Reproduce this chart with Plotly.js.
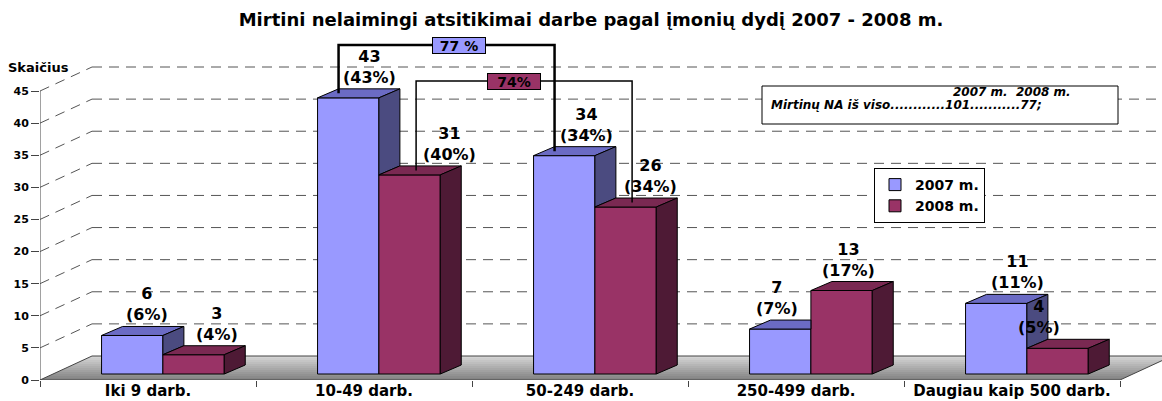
<!DOCTYPE html>
<html><head><meta charset="utf-8">
<script src="https://cdn.plot.ly/plotly-3.0.1.min.js"></script>
<style>html,body{margin:0;padding:0;background:#fff}#chart{width:1162px;height:401px}</style>
</head><body><div id="chart"></div>
<script>
// ---- data ----
const categories = ['Iki 9 darb.', '10-49 darb.', '50-249 darb.', '250-499 darb.', 'Daugiau kaip 500 darb.'];
const seriesNames = ['2007 m.', '2008 m.'];
const values2007 = [6, 43, 34, 7, 11];
const values2008 = [3, 31, 26, 13, 4];
const pct2007 = ['6%', '43%', '34%', '7%', '11%'];
const pct2008 = ['4%', '40%', '34%', '17%', '5%'];
const yTicks = [0, 5, 10, 15, 20, 25, 30, 35, 40, 45];
const bracketCats = [1, 2];
const bracketLabels = ['77 %', '74%'];
const totalsHeader = '2007 m.&nbsp;&nbsp;2008 m.';
const totalsLine = 'Mirtinų NA iš viso............101...........77;';
const titleText = 'Mirtini nelaimingi atsitikimai darbe pagal įmonių dydį 2007 - 2008 m.';
const yLabel = 'Skaičius';

// ---- geometry / style (layout only) ----
const W = 1162, H = 401, ML = 40, MR = 0, MT = 20, MB = 21;
const plotW = W - ML - MR, plotH = H - MT - MB;
const PXX = 216, PXY = 6.422;
const xMin = -0.5, xMax = xMin + plotW / PXX;
const yMax = plotH / PXY;
const barLift = 6 / PXY;            // bars stand slightly behind the front edge
const BW = 0.284, C0 = 0.069;       // bar width, pair centre offset
const DX = 21 / PXX, DY = 9 / PXY;  // bar depth
const WX = 52 / PXX, WY = 24 / PXY; // wall depth
const labelNudgePx = [[15, 21, 22, -3, 21], [23, 40, 25, 7, -19]]; // manual label placement as in the original
const FONT = 'DejaVu Sans, Arial, sans-serif';
const colBlue = '#9999FF', colBlueTop = '#6B6BC4', colBlueSide = '#4B4B80';
const colMar = '#993366', colMarTop = '#7A2952', colMarSide = '#4E1A35';
const n = categories.length;
const xIdx = categories.map((c, i) => i);

function poly(arr, pts) { pts.concat([pts[0]]).forEach(p => { arr.x.push(p[0]); arr.y.push(p[1]); }); arr.x.push(null); arr.y.push(null); }
const bTop = {x: [], y: []}, bSide = {x: [], y: []}, mTop = {x: [], y: []}, mSide = {x: [], y: []};
for (let i = 0; i < n; i++) {
  const vB = values2007[i], vM = values2008[i];
  const a = i + C0 - BW, b = i + C0, b2 = b + BW;
  if (vM <= vB) poly(bTop, [[a, vB], [a + DX, vB + DY], [b + DX, vB + DY], [b, vB]]);
  else if (vM >= vB + DY) poly(bTop, [[a, vB], [a + DX, vB + DY], [b, vB + DY], [b, vB]]);
  else { const xi = b + (vB + DY - vM) / DY * DX; poly(bTop, [[a, vB], [a + DX, vB + DY], [xi, vB + DY], [b, vM], [b, vB]]); }
  if (vM < vB) poly(bSide, [[b, vM], [b, vB], [b + DX, vB + DY], [b + DX, vM + DY]]);
  poly(mTop, [[b, vM], [b + DX, vM + DY], [b2 + DX, vM + DY], [b2, vM]]);
  poly(mSide, [[b2, 0], [b2, vM], [b2 + DX, vM + DY], [b2 + DX, DY]]);
}
function face(d, col) {
  return {type: 'scatter', mode: 'lines', x: d.x, y: d.y, xaxis: 'x', yaxis: 'y2', fill: 'toself', fillcolor: col,
    line: {color: '#000', width: 1}, hoverinfo: 'skip', showlegend: false, connectgaps: false};
}
const traces = [
  {type: 'bar', name: seriesNames[0], x: xIdx, y: values2007, xaxis: 'x', yaxis: 'y2', offset: C0 - BW, width: BW,
   marker: {color: colBlue, line: {color: '#000', width: 1}}, hoverinfo: 'none'},
  {type: 'bar', name: seriesNames[1], x: xIdx, y: values2008, xaxis: 'x', yaxis: 'y2', offset: C0, width: BW,
   marker: {color: colMar, line: {color: '#000', width: 1}}, hoverinfo: 'none'},
  face(bTop, colBlueTop), face(bSide, colBlueSide), face(mTop, colMarTop), face(mSide, colMarSide)
];

// ---- shapes: floor, walls, axis ----
const shapes = [];
const NB = 12;
for (let k = 0; k < NB; k++) {
  const y0 = WY * k / NB, y1 = WY * (k + 1) / NB;
  const t = (k + 0.5) / NB;
  const g = Math.round(128 + t * (215 - 128));
  const xl0 = xMin + WX * k / NB, xl1 = xMin + WX * (k + 1) / NB;
  const xr0 = n - 0.5 + WX * k / NB, xr1 = n - 0.5 + WX * (k + 1) / NB;
  shapes.push({type: 'path', layer: 'below', xref: 'x', yref: 'y',
    path: `M${xl0},${y0} L${xl1},${y1} L${xr1},${y1} L${xr0},${y0} Z`,
    fillcolor: `rgb(${g},${g},${g})`, line: {width: 0}});
}
shapes.push({type: 'path', layer: 'below', xref: 'x', yref: 'y',
  path: `M${xMin},0 L${xMin + WX},${WY} L${n - 0.5 + WX + 1},${WY} M${xMin},0 L${n - 0.5},0 L${n - 0.5 + WX},${WY}`,
  line: {color: '#444', width: 1}});
yTicks.forEach(v => {
  if (v === 0) return;
  shapes.push({type: 'line', layer: 'below', xref: 'x', yref: 'y', x0: xMin + WX, x1: xMax + 1, y0: v + WY, y1: v + WY,
    line: {color: '#555', width: 1, dash: '10px,7px'}});
  shapes.push({type: 'line', layer: 'below', xref: 'x', yref: 'y', x0: xMin, x1: xMin + WX, y0: v, y1: v + WY,
    line: {color: '#555', width: 1, dash: '10px,7px'}});
});
shapes.push({type: 'line', layer: 'below', xref: 'x', yref: 'y', x0: xMin, x1: xMin, y0: 0, y1: yTicks[yTicks.length - 1],
  line: {color: '#444', width: 1}});

// ---- brackets ----
const bracketTopPx = [45, 81];
const bracketShift = [DX, DX + 0.075];
const bracketWidth = [2.5, 1.5];
const bracketFill = [colBlue, colMar];
const bracketLabelShift = [12 / PXX, -10 / PXX];
const annotations = [];
[values2007, values2008].forEach((vals, s) => {
  const top = (H - MB - 6 - bracketTopPx[s]) / PXY;
  const xs = bracketCats.map(c => c + C0 - BW + s * BW + bracketShift[s]);
  const ys = bracketCats.map(c => vals[c] + DY / 2);
  shapes.push({type: 'path', layer: 'above', xref: 'x', yref: 'y2',
    path: `M${xs[0]},${ys[0]} L${xs[0]},${top} L${xs[1]},${top} L${xs[1]},${ys[1]}`,
    line: {color: '#000', width: bracketWidth[s]}});
  annotations.push({xref: 'x', yref: 'y2', x: (xs[0] + xs[1]) / 2 + bracketLabelShift[s], y: top, text: bracketLabels[s], showarrow: false,
    xanchor: 'center', yanchor: 'middle', bgcolor: bracketFill[s], bordercolor: '#000', borderwidth: 1, borderpad: 0,
    width: 52, height: 15, font: {family: FONT, size: 14, weight: 'bold', color: '#000'}});
});

// ---- value labels ----
[[values2007, pct2007], [values2008, pct2008]].forEach(([vals, pcts], s) => {
  vals.forEach((v, i) => {
    annotations.push({xref: 'x', yref: 'y2', x: i + C0 - BW + s * BW + BW / 2 + labelNudgePx[s][i] / PXX, y: v + DY,
      text: `${v}<br>(${pcts[i]})`, showarrow: false, xanchor: 'center', yanchor: 'bottom',
      font: {family: FONT, size: 16, weight: 'bold', color: '#000'}});
  });
});

// ---- info box ----
const px2x = p => (p - ML) / plotW, px2y = p => (H - MB - p) / plotH;
shapes.push({type: 'rect', xref: 'paper', yref: 'paper', x0: px2x(762), x1: px2x(1118), y0: px2y(124), y1: px2y(86),
  fillcolor: '#fff', line: {color: '#000', width: 1}, layer: 'above'});
annotations.push({xref: 'paper', yref: 'paper', x: px2x(1073), y: px2y(92), text: totalsHeader, showarrow: false,
  xanchor: 'right', yanchor: 'middle', font: {family: FONT, size: 12, weight: 'bold', style: 'italic', color: '#000'}});
annotations.push({xref: 'paper', yref: 'paper', x: px2x(769), y: px2y(105), text: totalsLine, showarrow: false,
  xanchor: 'left', yanchor: 'middle', font: {family: FONT, size: 12, weight: 'bold', style: 'italic', color: '#000'}});
annotations.push({xref: 'paper', yref: 'paper', x: px2x(6), y: px2y(68), text: yLabel, showarrow: false,
  xanchor: 'left', yanchor: 'middle', font: {family: FONT, size: 13, weight: 'bold', color: '#000'}});

const layout = {
  width: W, height: H, margin: {l: ML, r: MR, t: MT, b: MB, pad: 0},
  paper_bgcolor: '#fff', plot_bgcolor: 'rgba(0,0,0,0)',
  title: {text: titleText, font: {family: FONT, size: 18, weight: 'bold', color: '#000'},
    xref: 'container', x: 591 / W, xanchor: 'center', yref: 'container', y: 1 - 20 / H, yanchor: 'middle'},
  barmode: 'overlay', showlegend: true,
  legend: {x: px2x(874), y: px2y(168), xanchor: 'left', yanchor: 'top', bgcolor: '#fff', bordercolor: '#000', borderwidth: 1,
    font: {family: FONT, size: 14, weight: 'bold', color: '#000'}, itemwidth: 30, tracegroupgap: 0},
  xaxis: {range: [xMin, xMax], tickvals: xIdx, ticktext: categories, ticks: '', showgrid: false, zeroline: false, showline: false,
    tickfont: {family: FONT, size: 15, weight: 'bold', color: '#000'}, fixedrange: true,
    minor: {tickvals: categories.map((c, i) => i - 0.5).concat([n - 0.5]), ticks: 'outside', ticklen: 6, tickcolor: '#444', showgrid: false}},
  yaxis: {range: [0, yMax], tickvals: yTicks, ticks: 'outside', ticklen: 8, tickcolor: '#444', showgrid: false, zeroline: false,
    showline: false, tickfont: {family: FONT, size: 11, weight: 'bold', color: '#000'}, fixedrange: true},
  yaxis2: {range: [-barLift, yMax - barLift], overlaying: 'y', visible: false, fixedrange: true},
  shapes: shapes, annotations: annotations
};
Plotly.newPlot('chart', traces, layout, {displayModeBar: false, staticPlot: true});
</script></body></html>
